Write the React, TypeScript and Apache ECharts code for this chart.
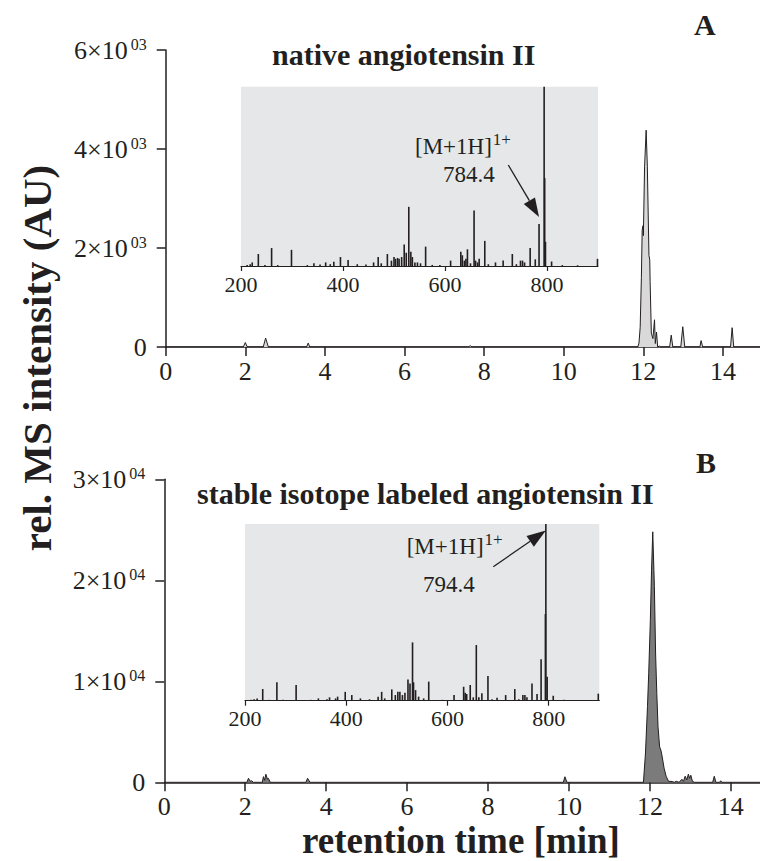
import React, { useEffect, useRef } from 'react';
import * as echarts from 'echarts';

const FONT = "'Liberation Serif', 'Times New Roman', Times, serif";
const INK = '#231f20';

// tick values
const TIME_TICKS = [0, 2, 4, 6, 8, 10, 12, 14];
const MZ_TICKS = [200, 400, 600, 800];

// panel texts
const PANEL_LETTERS = ['A', 'B'];
const PANEL_TITLES = ['native angiotensin II', 'stable isotope labeled angiotensin II'];
const Y_TITLE = 'rel. MS intensity (AU)';
const X_TITLE = 'retention time [min]';
const ION_LABEL = '[M+1H]';
const ION_CHARGE = '1+';

// annotated precursor peaks in the insets (m/z, relative intensity at arrow tip)
const ANNOT_MZ = [784.4, 794.4];
const ANNOT_REL = [23.4, 100];

// chromatogram A: [retention time (min), intensity]
const chromA: [number, number][] = [
  [0, 0], [1.95, 0], [2.0, 90], [2.05, 0], [2.45, 0], [2.51, 180], [2.58, 0],
  [3.54, 0], [3.58, 80], [3.62, 0], [7.6, 0], [7.65, 25], [7.7, 0],
  [11.86, 0], [11.89, 80], [11.92, 400], [11.95, 1400], [11.97, 2360], [11.99, 2450],
  [12.0, 2250], [12.03, 3640], [12.07, 4380], [12.1, 3640], [12.14, 1850], [12.16, 1760],
  [12.17, 1320], [12.2, 280], [12.24, 170], [12.28, 550], [12.3, 70], [12.33, 300],
  [12.36, 0], [12.4, 20], [12.43, 0], [12.66, 0], [12.7, 240], [12.74, 0],
  [12.94, 0], [12.99, 410], [13.04, 0], [13.42, 0], [13.45, 130], [13.49, 0],
  [14.19, 0], [14.23, 390], [14.27, 0], [14.93, 0],
];

// chromatogram B: [retention time (min), intensity]
const chromB: [number, number][] = [
  [0, 0], [2.04, 0], [2.08, 400], [2.12, 100], [2.16, 150], [2.2, 0], [2.42, 0],
  [2.45, 560], [2.48, 200], [2.51, 800], [2.55, 300], [2.57, 400], [2.62, 0],
  [3.5, 0], [3.54, 400], [3.6, 0], [9.86, 0], [9.9, 550], [9.95, 0],
  [11.84, 0], [11.89, 2900], [11.94, 7500], [11.97, 10800], [12.01, 16000], [12.04, 21000],
  [12.07, 24800], [12.11, 19400], [12.14, 12800], [12.17, 8800], [12.2, 5500],
  [12.24, 3500], [12.27, 3200], [12.3, 2600], [12.35, 1400], [12.4, 600], [12.46, 100],
  [12.55, 80], [12.6, 0], [12.65, 100], [12.72, 0], [12.79, 300], [12.83, 100],
  [12.87, 600], [12.91, 250], [12.95, 800], [12.98, 400], [13.01, 700], [13.05, 100],
  [13.1, 0], [13.55, 0], [13.59, 600], [13.63, 0], [13.72, 0], [13.75, 150], [13.78, 0],
  [14.72, 0],
];

// inset spectra: [m/z, relative intensity %]
const spectrumA: [number, number][] = [
  [212, 0.6], [218, 1], [222, 2], [234, 6.7], [247, 0.6], [260, 10], [272, 0.5], [299, 9],
  [330, 0.5], [343, 1.5], [355, 0.8], [366, 2], [375, 1], [382, 2.4], [395, 5], [410, 3.3],
  [428, 1], [445, 0.8], [460, 2], [469, 5], [475, 1.5], [487, 6.7], [495, 3], [500, 5],
  [503, 4], [507, 4.5], [510, 4], [515, 5], [520, 12], [524, 7.4], [529, 33], [533, 8],
  [536, 5], [541, 2], [546, 2], [552, 1.5], [562, 10.8], [575, 0.6], [590, 0.6], [611, 3],
  [631, 8], [634, 6], [638, 3], [641, 4], [644, 9.3], [650, 1.5], [657, 31], [660, 3],
  [664, 2], [667, 4], [678, 14], [685, 1], [699, 2], [714, 3], [732, 6.7], [740, 1],
  [748, 3], [752, 3], [756, 2], [767, 10], [777, 3.7], [784.4, 23.4], [795.5, 49],
  [794.4, 100], [797, 13.5], [809, 2.5], [830, 0.5], [860, 0.4], [899, 4],
];

const spectrumB: [number, number][] = [
  [212, 0.5], [218, 0.8], [224, 1.3], [235, 6.6], [248, 0.5], [263, 10.4], [275, 0.5],
  [301, 8.9], [330, 0.5], [345, 1.3], [362, 0.8], [367, 1.9], [379, 1.3], [383, 2.3],
  [398, 5], [411, 3.2], [428, 1.3], [446, 0.8], [463, 2.3], [470, 5], [476, 1.3],
  [490, 6.4], [497, 3.2], [502, 5], [506, 5], [511, 3.2], [516, 4.5], [522, 12],
  [526, 9.8], [531, 33], [533, 10.4], [537, 6], [543, 2.3], [553, 1.3], [563, 10.8],
  [572, 0.4], [590, 0.5], [613, 3.2], [632, 7.9], [635, 4.5], [638, 3.8], [645, 8.9],
  [651, 1.9], [657, 31.5], [662, 1.9], [668, 4.2], [680, 14], [688, 0.8], [698, 1.7],
  [715, 3.2], [733, 6.6], [741, 0.8], [749, 3.2], [753, 3.2], [757, 1.9], [767, 9.8],
  [777, 3.8], [785, 23.4], [793.5, 49], [794.4, 100], [797, 13.6], [809, 2.8], [830, 0.5],
  [860, 0.4], [898, 4],
];

function mainXAxis(gridIndex: number, max: number) {
  return {
    gridIndex,
    type: 'value',
    min: 0,
    max,
    axisLine: { show: true, onZero: false, lineStyle: { color: INK, width: 1.5 } },
    axisTick: { show: true, inside: false, length: 9, customValues: TIME_TICKS, lineStyle: { color: INK, width: 1.5 } },
    axisLabel: {
      customValues: TIME_TICKS,
      fontSize: 26,
      fontFamily: FONT,
      color: INK,
      margin: 11,
      formatter: (v: number) => String(v),
    },
    splitLine: { show: false },
  };
}

function mainYAxis(gridIndex: number, max: number, interval: number, exp: string) {
  return {
    gridIndex,
    type: 'value',
    min: 0,
    max,
    interval,
    axisLine: { show: true, lineStyle: { color: INK, width: 1.5 } },
    axisTick: { show: true, inside: false, length: 9, lineStyle: { color: INK, width: 1.5 } },
    axisLabel: {
      margin: 19,
      formatter: (v: number) => (v === 0 ? '{m|0}' : `{m|${Math.round(v / Math.pow(10, Number(exp)))}×10}{s|${exp}}`),
      rich: {
        m: { fontSize: 26, fontFamily: FONT, color: INK, lineHeight: 28 },
        s: { fontSize: 16, fontFamily: FONT, color: INK, lineHeight: 15, verticalAlign: 'top', padding: [0, 0, 0, 3] },
      },
    },
    splitLine: { show: false },
  };
}

function insetXAxis(gridIndex: number) {
  return {
    gridIndex,
    type: 'value',
    min: 200,
    max: 900,
    axisLine: { show: true, onZero: false, lineStyle: { color: INK, width: 1.2 } },
    axisTick: { show: true, inside: false, length: 5, customValues: MZ_TICKS, lineStyle: { color: INK, width: 1.2 } },
    axisLabel: {
      customValues: MZ_TICKS,
      fontSize: 22,
      fontFamily: FONT,
      color: INK,
      margin: 7,
      formatter: (v: number) => String(v),
    },
    splitLine: { show: false },
  };
}

function insetYAxis(gridIndex: number) {
  return { gridIndex, type: 'value', min: 0, max: 100, show: false, splitLine: { show: false } };
}

function arrow(tail: number[], tip: number[], L = 19, W = 13) {
  const dx = tip[0] - tail[0];
  const dy = tip[1] - tail[1];
  const len = Math.hypot(dx, dy);
  const ux = dx / len;
  const uy = dy / len;
  const nx = -uy;
  const ny = ux;
  const bx = tip[0] - ux * L;
  const by = tip[1] - uy * L;
  return [
    { type: 'line', shape: { x1: tail[0], y1: tail[1], x2: bx, y2: by }, style: { stroke: INK, lineWidth: 1.3 } },
    {
      type: 'polygon',
      shape: { points: [[tip[0], tip[1]], [bx + (nx * W) / 2, by + (ny * W) / 2], [bx - (nx * W) / 2, by - (ny * W) / 2]] },
      style: { fill: INK },
    },
  ];
}

function txt(text: string, x: number, y: number, size: number, bold: boolean, align = 'left', rotation = 0) {
  return {
    type: 'text',
    x,
    y,
    rotation,
    style: {
      text,
      fontSize: size,
      fontFamily: FONT,
      fontWeight: bold ? 'bold' : 'normal',
      fill: INK,
      align,
      verticalAlign: 'middle',
    },
  };
}

function ionText(x: number, y: number) {
  return {
    type: 'text',
    x,
    y,
    style: {
      text: `{a|${ION_LABEL}}{s|${ION_CHARGE}}`,
      align: 'left',
      verticalAlign: 'middle',
      rich: {
        a: { fontSize: 23, fontFamily: FONT, fill: INK, color: INK, lineHeight: 30 },
        s: { fontSize: 17, fontFamily: FONT, fill: INK, color: INK, lineHeight: 17, verticalAlign: 'top', padding: [0, 0, 0, 1] },
      },
    },
  };
}

export default function App() {
  const ref = useRef<HTMLDivElement>(null);

  useEffect(() => {
    if (!ref.current) return;
    const chart = echarts.init(ref.current, undefined, { renderer: 'svg' });
    const option: any = {
      animation: false,
      backgroundColor: '#ffffff',
      grid: [
        { left: 165.7, top: 50, width: 594.3, height: 297, show: false },
        { left: 164.3, top: 479.3, width: 595.7, height: 303, show: false },
        { left: 241, top: 86.7, width: 357, height: 179.3, show: true, backgroundColor: '#e6e7e8', borderWidth: 0 },
        { left: 245, top: 524, width: 354.3, height: 176.7, show: true, backgroundColor: '#e6e7e8', borderWidth: 0 },
      ],
      xAxis: [mainXAxis(0, 14.93), mainXAxis(1, 14.72), insetXAxis(2), insetXAxis(3)],
      yAxis: [mainYAxis(0, 6000, 2000, '03'), mainYAxis(1, 30000, 10000, '04'), insetYAxis(2), insetYAxis(3)],
      series: [
        {
          type: 'line', xAxisIndex: 0, yAxisIndex: 0, data: chromA, symbol: 'none', z: 3,
          lineStyle: { color: INK, width: 1 }, areaStyle: { color: '#d9d9d9', opacity: 1 },
        },
        {
          type: 'line', xAxisIndex: 1, yAxisIndex: 1, data: chromB, symbol: 'none', z: 3,
          lineStyle: { color: INK, width: 1 }, areaStyle: { color: '#7b7b7b', opacity: 1 },
        },
        {
          type: 'bar', xAxisIndex: 2, yAxisIndex: 2, data: spectrumA, barWidth: 1.6,
          itemStyle: { color: INK }, z: 3,
        },
        {
          type: 'bar', xAxisIndex: 3, yAxisIndex: 3, data: spectrumB, barWidth: 1.6,
          itemStyle: { color: INK }, z: 3,
        },
      ],
    };
    chart.setOption(option);

    const pA = chart.convertToPixel({ gridIndex: 2 } as any, [ANNOT_MZ[0], ANNOT_REL[0]]) as number[];
    const pB = chart.convertToPixel({ gridIndex: 3 } as any, [ANNOT_MZ[1], ANNOT_REL[1]]) as number[];
    const tipA = [pA[0], pA[1] - 7];
    const tipB = [pB[0], pB[1] + 6.5];

    const graphic: any[] = [
      txt(PANEL_LETTERS[0], 694, 24, 30, true),
      txt(PANEL_LETTERS[1], 696, 462, 30, true),
      txt(PANEL_TITLES[0], 272, 54, 30, true),
      txt(PANEL_TITLES[1], 197, 493, 30, true),
      txt(Y_TITLE, 37, 358, 41, true, 'center', Math.PI / 2),
      txt(X_TITLE, 461, 840, 37, true, 'center'),
      ionText(415, 146),
      txt(String(ANNOT_MZ[0]), 443, 174.5, 23, false),
      ionText(406.7, 546),
      txt(String(ANNOT_MZ[1]), 423, 584.5, 23, false),
      ...arrow([508.3, 165], tipA),
      ...arrow([493.3, 566.7], tipB),
    ];
    chart.setOption({ graphic });

    return () => chart.dispose();
  }, []);

  return (
    <div
      ref={ref}
      style={{ position: 'fixed', left: 0, top: 0, width: 760, height: 861, background: '#fff' }}
    />
  );
}
